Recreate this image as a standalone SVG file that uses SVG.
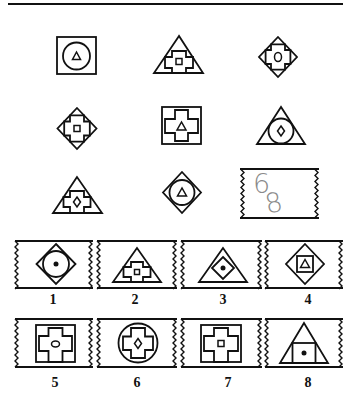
<svg xmlns="http://www.w3.org/2000/svg" width="343" height="406" viewBox="0 0 343 406">
<style>
.s{fill:none;stroke:#111;stroke-width:1.8;stroke-linejoin:miter}
.t{fill:none;stroke:#111;stroke-width:1.5}
.d{fill:#111}
.edge{fill:none;stroke:#111;stroke-width:2.2}
.zz{fill:none;stroke:#111;stroke-width:1.4}
.lbl{font-family:"Liberation Serif",serif;font-weight:bold;font-size:14px;fill:#111;text-anchor:middle}
.hand{font-family:"DejaVu Sans",sans-serif;font-size:27px;fill:#8a8a8a;font-weight:200}
</style>
<defs>
<path id="zz" d="M0,0 l3,3 l-3,3 l3,3 l-3,3 l3,3 l-3,3 l3,3 l-3,3 l3,3 l-3,3 l3,3 l-3,3 l3,3 l-3,3 l3,3 l-3,3"/>
</defs>
<line x1="8" y1="4" x2="343" y2="4" stroke="#111" stroke-width="2.2"/>

<g id="m1">
<rect class="s" x="57" y="37" width="39" height="37"/>
<circle class="s" cx="76.5" cy="56" r="13.5"/>
<polygon class="t" points="76.5,52 72.5,59.5 80.5,59.5"/>
</g>
<g id="m2">
<polygon class="s" points="179,36 154,73 203,73"/>
<path class="s" d="M172,51 H186 V57 H193 V68 H186 V73 H172 V68 H165 V57 H172 Z"/>
<rect class="t" x="176" y="58.5" width="6" height="6"/>
</g>
<g id="m3">
<polygon class="s" points="278,37 297,57 278,77 259,57"/>
<path class="s" d="M271,44.4 H285 V50 H290.4 V64 H285 V69.6 H271 V64 H265.6 V50 H271 Z"/>
<ellipse class="t" cx="278" cy="57" rx="3.5" ry="4.5"/>
</g>
<g id="m4">
<polygon class="s" points="77,108 96.5,128.5 77,149 57.5,128.5"/>
<path class="s" d="M70,115.4 H84 V121.5 H89.8 V135.5 H84 V141.6 H70 V135.5 H64.2 V121.5 H70 Z"/>
<rect class="t" x="74" y="125.5" width="6" height="6"/>
</g>
<g id="m5">
<rect class="s" x="162" y="107" width="39" height="37"/>
<path class="s" d="M175,110 H188 V119 H198 V133 H188 V141 H175 V133 H165 V119 H175 Z"/>
<polygon class="t" points="181.5,122 177,130 186,130"/>
</g>
<g id="m6">
<polygon class="s" points="281,107 257,144 305,144"/>
<circle class="s" cx="281" cy="131" r="12.5"/>
<polygon class="t" points="281,126 284.5,131 281,136 277.5,131"/>
</g>
<g id="m7">
<polygon class="s" points="77,177 53,213 102,213"/>
<path class="s" d="M70,191 H84 V197 H90.5 V207 H84 V213 H70 V207 H63.5 V197 H70 Z"/>
<polygon class="t" points="77,197 80.5,202 77,207 73.5,202"/>
</g>
<g id="m8">
<polygon class="s" points="182,172 201,192.5 182,213 163,192.5"/>
<circle class="s" cx="182" cy="192.5" r="12.5"/>
<polygon class="t" points="182,188 177.5,196 186.5,196"/>
</g>
<g id="m9">
<line class="edge" x1="240" y1="169" x2="319" y2="169"/>
<line class="edge" x1="240" y1="218" x2="319" y2="218"/>
<use href="#zz" class="zz" transform="translate(241,169.5)"/>
<use href="#zz" class="zz" transform="translate(315,169.5)"/>
<text class="hand" x="253" y="193">6</text>
<text class="hand" x="265" y="212" transform="rotate(-12 274 202)">8</text>
</g>

<g id="a1">
<line class="edge" x1="15" y1="241" x2="93" y2="241"/>
<line class="edge" x1="15" y1="288" x2="93" y2="288"/>
<use href="#zz" class="zz" transform="translate(15,241)"/>
<use href="#zz" class="zz" transform="translate(89,241)"/>
<polygon class="s" points="56,244 75.5,264 56,284 36.5,264"/>
<circle class="s" cx="56" cy="264" r="13"/>
<circle class="d" cx="56" cy="264" r="2.5"/>
<text class="lbl" x="53" y="304">1</text>
</g>
<g id="a2">
<line class="edge" x1="97" y1="241" x2="177" y2="241"/>
<line class="edge" x1="97" y1="288" x2="177" y2="288"/>
<use href="#zz" class="zz" transform="translate(97,241)"/>
<use href="#zz" class="zz" transform="translate(173,241)"/>
<polygon class="s" points="137,248 113,282 161,282"/>
<path class="s" d="M131,262 H143 V267 H150.5 V277 H143 V282 H131 V277 H123.5 V267 H131 Z"/>
<rect class="t" x="134.5" y="269.5" width="5" height="5"/>
<text class="lbl" x="135" y="304">2</text>
</g>
<g id="a3">
<line class="edge" x1="181" y1="241" x2="262" y2="241"/>
<line class="edge" x1="181" y1="288" x2="262" y2="288"/>
<use href="#zz" class="zz" transform="translate(181,241)"/>
<use href="#zz" class="zz" transform="translate(258,241)"/>
<polygon class="s" points="223,248 199,282 247,282"/>
<polygon class="s" points="223,257 234,268 223,279 212,268"/>
<circle class="d" cx="223" cy="268" r="2.5"/>
<text class="lbl" x="223" y="304">3</text>
</g>
<g id="a4">
<line class="edge" x1="265" y1="241" x2="343" y2="241"/>
<line class="edge" x1="265" y1="288" x2="343" y2="288"/>
<use href="#zz" class="zz" transform="translate(265,241)"/>
<use href="#zz" class="zz" transform="translate(339,241)"/>
<polygon class="s" points="305,244 324,264 305,284 286,264"/>
<rect class="s" x="297" y="256" width="16" height="16"/>
<polygon class="t" points="305,259.5 300.5,267.5 309.5,267.5"/>
<text class="lbl" x="308" y="304">4</text>
</g>

<g id="a5">
<line class="edge" x1="15" y1="319" x2="93" y2="319"/>
<line class="edge" x1="15" y1="367" x2="93" y2="367"/>
<use href="#zz" class="zz" transform="translate(15,319)"/>
<use href="#zz" class="zz" transform="translate(89,319)"/>
<rect class="s" x="36" y="325" width="39" height="37"/>
<path class="s" d="M48.5,328 H62.5 V336 H72 V351 H62.5 V362 H48.5 V351 H39 V336 H48.5 Z"/>
<ellipse class="t" cx="55.5" cy="344" rx="4" ry="3"/>
<text class="lbl" x="55" y="387">5</text>
</g>
<g id="a6">
<line class="edge" x1="97" y1="319" x2="177" y2="319"/>
<line class="edge" x1="97" y1="367" x2="177" y2="367"/>
<use href="#zz" class="zz" transform="translate(97,319)"/>
<use href="#zz" class="zz" transform="translate(173,319)"/>
<circle class="s" cx="138" cy="343" r="19.5" stroke-width="2.2"/>
<path class="s" d="M131,328 H145 V336.5 H153 V350 H145 V358 H131 V350 H123 V336.5 H131 Z"/>
<polygon class="t" points="138,338.5 141.5,343.5 138,348.5 134.5,343.5"/>
<text class="lbl" x="137" y="387">6</text>
</g>
<g id="a7">
<line class="edge" x1="181" y1="319" x2="262" y2="319"/>
<line class="edge" x1="181" y1="367" x2="262" y2="367"/>
<use href="#zz" class="zz" transform="translate(181,319)"/>
<use href="#zz" class="zz" transform="translate(258,319)"/>
<rect class="s" x="201" y="325" width="40" height="37"/>
<path class="s" d="M214,328 H228 V336 H238 V351 H228 V362 H214 V351 H204 V336 H214 Z"/>
<rect class="t" x="218" y="340.5" width="6" height="6"/>
<text class="lbl" x="228" y="387">7</text>
</g>
<g id="a8">
<line class="edge" x1="265" y1="319" x2="343" y2="319"/>
<line class="edge" x1="265" y1="367" x2="343" y2="367"/>
<use href="#zz" class="zz" transform="translate(265,319)"/>
<use href="#zz" class="zz" transform="translate(339,319)"/>
<polygon class="s" points="304,323 280,363 328,363"/>
<rect class="s" x="292.5" y="343" width="23" height="20"/>
<circle class="d" cx="304" cy="353" r="2.5"/>
<text class="lbl" x="308" y="387">8</text>
</g>
<g id="connectors"></g>
</svg>
